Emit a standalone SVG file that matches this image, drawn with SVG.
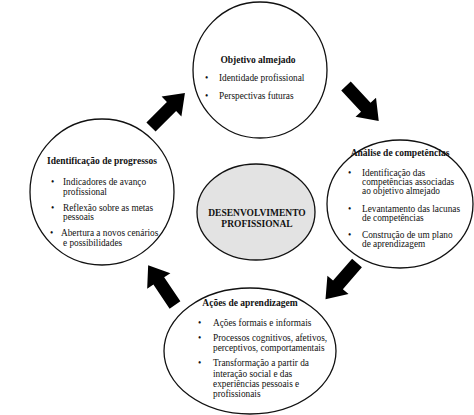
<svg xmlns="http://www.w3.org/2000/svg" width="474" height="415" viewBox="0 0 474 415">
<style>
.node{fill:#fff;stroke:#111;stroke-width:1.3}
.center{fill:#e3e3e3;stroke:#111;stroke-width:1.3}
text{font-family:"Liberation Serif","Times New Roman",serif;fill:#111}
.t{font-size:9.5px;font-weight:bold;text-anchor:middle}
.b{font-size:9.3px}
.arrow{fill:#000}
</style>
<defs>
<path id="arr" d="M0,-6.5 L29,-6.5 L29,-14 L48,0 L29,14 L29,6.5 L0,6.5 Z"/>
</defs>
<g id="connectors">
<use href="#arr" class="arrow" transform="translate(151,127) rotate(-45)"/>
<use href="#arr" class="arrow" transform="translate(346,86) rotate(47)"/>
<use href="#arr" class="arrow" transform="translate(357,263) rotate(131)"/>
<use href="#arr" class="arrow" transform="translate(175,305) rotate(236)"/>
</g>
<g id="objetivo">
<ellipse class="node" cx="260" cy="70" rx="67" ry="68"/>
<text class="t" x="258" y="63">Objetivo almejado</text>
<text class="b" x="205" y="81">•</text><text class="b" x="219" y="81">Identidade profissional</text>
<text class="b" x="205" y="99">•</text><text class="b" x="219" y="99">Perspectivas futuras</text>
</g>
<g id="analise">
<ellipse class="node" cx="400" cy="204" rx="73" ry="64"/>
<text class="t" x="400" y="156">Análise de competências</text>
<text class="b" x="348" y="176">•</text>
<text class="b" x="362" y="176">Identificação das</text>
<text class="b" x="362" y="185">competências associadas</text>
<text class="b" x="362" y="194">ao objetivo almejado</text>
<text class="b" x="348" y="212">•</text>
<text class="b" x="362" y="212">Levantamento das lacunas</text>
<text class="b" x="362" y="221">de competências</text>
<text class="b" x="348" y="238">•</text>
<text class="b" x="362" y="238">Construção de um plano</text>
<text class="b" x="362" y="247">de aprendizagem</text>
</g>
<g id="acoes">
<ellipse class="node" cx="250" cy="351" rx="86" ry="63"/>
<text class="t" x="250" y="306">Ações de aprendizagem</text>
<text class="b" x="198" y="326">•</text>
<text class="b" x="213" y="326">Ações formais e informais</text>
<text class="b" x="198" y="341">•</text>
<text class="b" x="213" y="341">Processos cognitivos, afetivos,</text>
<text class="b" x="213" y="351">perceptivos, comportamentais</text>
<text class="b" x="198" y="366">•</text>
<text class="b" x="213" y="366">Transformação a partir da</text>
<text class="b" x="213" y="377">interação social e das</text>
<text class="b" x="213" y="387">experiências pessoais e</text>
<text class="b" x="213" y="397">profissionais</text>
</g>
<g id="identificacao">
<ellipse class="node" cx="102" cy="192" rx="72" ry="73"/>
<text class="t" x="102" y="164">Identificação de progressos</text>
<text class="b" x="51" y="185">•</text>
<text class="b" x="63" y="185">Indicadores de avanço</text>
<text class="b" x="63" y="195">profissional</text>
<text class="b" x="51" y="211">•</text>
<text class="b" x="63" y="211">Reflexão sobre as metas</text>
<text class="b" x="63" y="220">pessoais</text>
<text class="b" x="50" y="236">•</text>
<text class="b" x="61" y="236">Abertura a novos cenários</text>
<text class="b" x="63" y="246">e possibilidades</text>
</g>
<g id="desenvolvimento">
<ellipse class="center" cx="256" cy="212" rx="59" ry="48"/>
<text class="t" x="257" y="216">DESENVOLVIMENTO</text>
<text class="t" x="257" y="227">PROFISSIONAL</text>
</g>
</svg>
